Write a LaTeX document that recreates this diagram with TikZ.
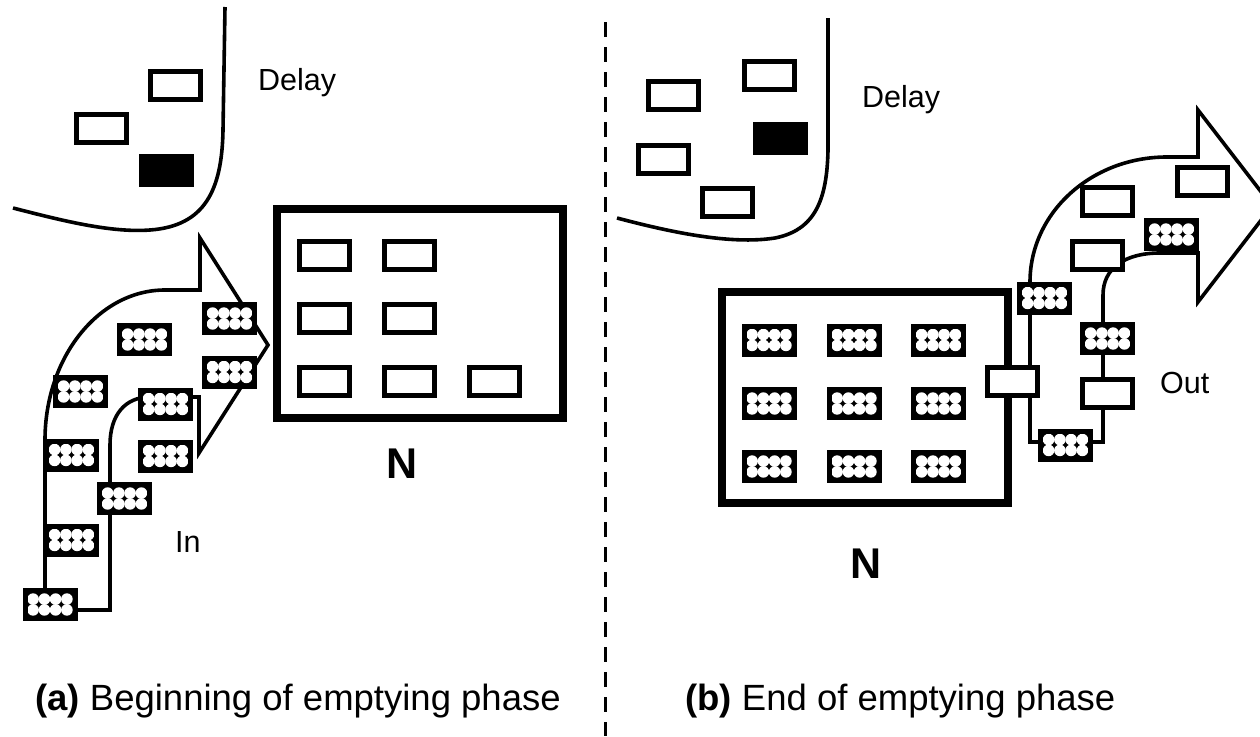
\documentclass[tikz,border=0pt]{standalone}
\usepackage{fontspec}
\setmainfont{Liberation Sans}
\usepackage{tikz}

\begin{document}
\begin{tikzpicture}[x=1pt,y=-1pt,
    cell/.style={draw,line width=5pt,fill=white,minimum width=50pt,minimum height=28pt,inner sep=0pt},
    fullcell/.style={cell,fill=black},
    patcell/.style={cell,path picture={
        \fill[black] (path picture bounding box.south west) rectangle (path picture bounding box.north east);
        \foreach \i in {-16.9,-5.6,5.6,16.9}
            \foreach \j in {-5.4,5.4}
                \fill[white] ([shift={(\i pt,\j pt)}]path picture bounding box.center) circle (5.8pt);}},
    netbox/.style={draw,line width=8pt,minimum width=286pt,minimum height=209pt,inner sep=0pt},
    flow/.style={line width=3.6pt,line join=miter},
    lbl/.style={font=\fontsize{30.5}{36}\selectfont,inner sep=0pt},
    biglbl/.style={font=\fontsize{43}{48}\selectfont\bfseries,inner sep=0pt},
    caption/.style={font=\fontsize{36.5}{42}\selectfont,inner sep=0pt}]
    \useasboundingbox (0,0) rectangle (1260,736);

    % divider
    \draw[line width=3pt,dash pattern=on 15pt off 10pt] (605,22) -- (605,736);

    % (a) beginning
    \draw[flow] (13,208) .. controls (60,220) and (110,233) .. (150,230) .. controls (205,226) and (222,190) .. (223,130) -- (225,7);
    \node[cell] (da1) at (175.5,85) {};
    \node[cell] (da2) at (101.5,128.5) {};
    \node[fullcell] (da3) at (166,170) {};
    \node[lbl,anchor=base west] (delayA) at (258,90) {Delay};

    \node[netbox] (netA) at (420,313.5) {};
    \foreach \x/\y/\n in {324.5/255/1,409.5/255/2,324.5/318.5/3,409.5/318.5/4,324.5/381.5/5,409.5/381.5/6,494.5/381.5/7}
        \node[cell] (na\n) at (\x,\y) {};
    \node[biglbl,anchor=base] (labNA) at (402,478) {N};

    \draw[flow] (45,610) -- (45,440) .. controls (45,357) and (99,290) .. (165,290) -- (200,290) -- (200,238) -- (268,345) -- (199,453) -- (199,397) -- (150,397) .. controls (125,397) and (110,415) .. (110,445) -- (110,610) -- cycle;
    \node[patcell] (ia1) at (229.5,318.5) {};
    \node[patcell] (ia2) at (229.5,372) {};
    \node[patcell] (ia3) at (144.5,339.5) {};
    \node[patcell] (ia4) at (80.5,391.5) {};
    \node[patcell] (ia5) at (165.5,404) {};
    \node[patcell] (ia6) at (71.5,455) {};
    \node[patcell] (ia7) at (165.5,456) {};
    \node[patcell] (ia8) at (124.5,498.5) {};
    \node[patcell] (ia9) at (71.5,540) {};
    \node[patcell] (ia10) at (50,604.5) {};
    \node[lbl,anchor=base west] (labIn) at (175,552) {In};

    \node[caption,anchor=base west] (capA) at (35,710) {\textbf{(a)} Beginning of emptying phase};

    % (b) end
    \draw[flow] (617,218) .. controls (670,232) and (730,245) .. (775,238) .. controls (815,230) and (827,200) .. (828,150) -- (828,18);
    \node[cell] (db1) at (769.5,75) {};
    \node[cell] (db2) at (673.5,95.5) {};
    \node[fullcell] (db3) at (780,138.5) {};
    \node[cell] (db4) at (663.5,159.5) {};
    \node[cell] (db5) at (727.5,202.5) {};
    \node[lbl,anchor=base west] (delayB) at (862,107) {Delay};

    \node[netbox,minimum height=211pt] (netB) at (865,397.5) {};
    \foreach \x/\n in {769/1,854/2,938.5/3}
        \foreach \y/\m in {340/1,403.5/2,466.5/3}
            \node[patcell] (nb\n\m) at (\x,\y) {};
    \node[biglbl,anchor=base] (labNB) at (866,578) {N};

    \draw[flow] (1030,442) -- (1030,282) .. controls (1030,213) and (1091,157) .. (1167,157) -- (1198,157) -- (1198,110) -- (1272,206) -- (1198,302) -- (1198,253) -- (1160,253) .. controls (1125,253) and (1103,268) .. (1103,295) -- (1103,442) -- cycle;
    \node[patcell] (ob1) at (1044.5,298) {};
    \node[cell] (ob2) at (1012.5,381.5) {};
    \node[patcell] (ob3) at (1065.5,445) {};
    \node[cell] (ob4) at (1107.5,393.5) {};
    \node[patcell] (ob5) at (1107.5,338.5) {};
    \node[cell] (ob6) at (1097.5,255) {};
    \node[cell] (ob7) at (1107.5,201.5) {};
    \node[patcell] (ob8) at (1171.5,234.5) {};
    \node[cell] (ob9) at (1202.5,181) {};
    \node[lbl,anchor=base west] (labOut) at (1160,393) {Out};

    \node[caption,anchor=base west] (capB) at (685,710) {\textbf{(b)} End of emptying phase};
\end{tikzpicture}
\end{document}
